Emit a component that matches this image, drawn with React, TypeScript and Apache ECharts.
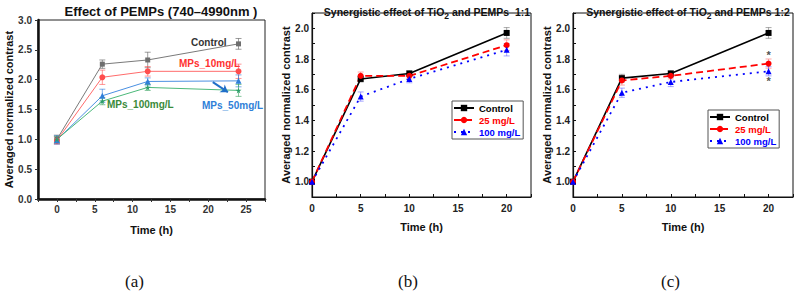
import React, { useEffect, useRef } from "react";
import * as echarts from "echarts";

// ---------- Panel (a) data ----------
const timeA = [0, 6, 12, 24];
const controlA = [1.0, 2.26, 2.33, 2.6];
const controlAErr = [0.07, 0.07, 0.13, 0.09];
const mp10A = [0.98, 2.04, 2.14, 2.14];
const mp10AErr = [0.06, 0.12, 0.08, 0.12];
const mp50A = [0.99, 1.73, 1.97, 1.98];
const mp50AErr = [0.07, 0.11, 0.06, 0.1];
const mp100A = [1.0, 1.64, 1.87, 1.82];
const mp100AErr = [0.05, 0.06, 0.05, 0.1];

// ---------- Panel (b) data ----------
const timeBC = [0, 5, 10, 20];
const controlB = [1.0, 1.67, 1.705, 1.97];
const controlBErr = [0.01, 0.02, 0.02, 0.035];
const mg25B = [1.0, 1.69, 1.69, 1.89];
const mg25BErr = [0.01, 0.025, 0.02, 0.035];
const mg100B = [1.0, 1.555, 1.67, 1.86];
const mg100BErr = [0.01, 0.03, 0.025, 0.04];

// ---------- Panel (c) data ----------
const controlC = [1.0, 1.675, 1.705, 1.97];
const controlCErr = [0.01, 0.025, 0.02, 0.035];
const mg25C = [1.0, 1.66, 1.69, 1.77];
const mg25CErr = [0.01, 0.03, 0.02, 0.03];
const mg100C = [1.0, 1.58, 1.65, 1.72];
const mg100CErr = [0.01, 0.03, 0.03, 0.03];
const sigMarksC = [[20, 1.825], [20, 1.655]];

const legendNames = ["Control", "25 mg/L", "100 mg/L"];

const FONT = "Liberation Sans, Arial, sans-serif";
const STAR =
  "path://M50,0 L61,35 L98,35 L68,57 L79,91 L50,70 L21,91 L32,57 L2,35 L39,35 Z";

function pairs(xs: number[], ys: number[]) {
  return xs.map((x, i) => [x, ys[i]]);
}

function errSeries(xs: number[], ys: number[], es: number[], color: string, idx: number) {
  return {
    type: "custom",
    xAxisIndex: idx,
    yAxisIndex: idx,
    silent: true,
    z: 1,
    data: xs.map((x, i) => [x, ys[i] - es[i], ys[i] + es[i]]),
    encode: { x: 0, y: [1, 2] },
    renderItem: (params: any, api: any) => {
      const x = api.value(0);
      const lo = api.coord([x, api.value(1)]);
      const hi = api.coord([x, api.value(2)]);
      const w = 3;
      const st = { stroke: color, lineWidth: 1 };
      return {
        type: "group",
        children: [
          { type: "line", shape: { x1: lo[0], y1: lo[1], x2: hi[0], y2: hi[1] }, style: st },
          { type: "line", shape: { x1: lo[0] - w, y1: lo[1], x2: lo[0] + w, y2: lo[1] }, style: st },
          { type: "line", shape: { x1: hi[0] - w, y1: hi[1], x2: hi[0] + w, y2: hi[1] }, style: st },
        ],
      };
    },
  };
}

function lineSeries(name: string, data: number[][], color: string, symbol: string, idx: number, extra: any = {}) {
  return {
    type: "line",
    name,
    xAxisIndex: idx,
    yAxisIndex: idx,
    data,
    symbol,
    symbolSize: 6,
    z: 3,
    itemStyle: { color },
    lineStyle: { color, width: 1.6 },
    ...extra,
  };
}

const axisText = { fontFamily: FONT, fontWeight: "bold", fontSize: 10, color: "#222" };

function xAxisBC(idx: number) {
  return {
    gridIndex: idx,
    type: "value",
    min: 0,
    max: 22.5,
    interval: 2.5,
    name: "Time (h)",
    nameLocation: "middle",
    nameGap: 24,
    nameTextStyle: { ...axisText, fontSize: 11, color: "#111" },
    axisLine: { onZero: false, lineStyle: { color: "#111", width: 1.2 } },
    axisTick: { inside: true, length: 3, lineStyle: { color: "#111" } },
    axisLabel: {
      ...axisText,
      margin: 6,
      formatter: (v: number) => (Math.abs(v % 5) < 1e-6 && v <= 20 ? String(v) : ""),
    },
    splitLine: { show: false },
  };
}

function yAxisBC(idx: number) {
  return {
    gridIndex: idx,
    type: "value",
    min: 0.9,
    max: 2.1,
    interval: 0.1,
    name: "Averaged normalized contrast",
    nameLocation: "middle",
    nameGap: 21,
    nameTextStyle: { ...axisText, fontSize: 11, color: "#111" },
    axisLine: { onZero: false, lineStyle: { color: "#111", width: 1.2 } },
    axisTick: { inside: true, length: 3, lineStyle: { color: "#111" } },
    axisLabel: {
      ...axisText,
      margin: 3,
      formatter: (v: number) => {
        const k = Math.round(v * 10);
        return k % 2 === 0 && k >= 10 && k <= 20 ? (k / 10).toFixed(1) : "";
      },
    },
    splitLine: { show: false },
  };
}

function legendBC(left: number, top: number) {
  const colors = ["#000", "#ff0000", "#0000ff"];
  return {
    left,
    top,
    orient: "vertical",
    itemWidth: 20,
    itemHeight: 8,
    itemGap: 2,
    padding: [2, 3, 2, 1],
    borderColor: "#555",
    borderWidth: 1,
    selectedMode: false,
    data: legendNames.map((n, i) => ({
      name: n,
      textStyle: { color: colors[i], fontFamily: FONT, fontWeight: "bold", fontSize: 9.5 },
    })),
  };
}

function titleBC(text: string, left: number) {
  return {
    text,
    left,
    top: 0,
    textAlign: "center",
    textStyle: {
      fontFamily: FONT,
      fontWeight: "bold",
      fontSize: 10.5,
      color: "#111",
      lineHeight: 14,
      rich: {
        sub: { fontFamily: FONT, fontWeight: "bold", fontSize: 8.5, color: "#111", padding: [7, 0, 0, 0] },
      },
    },
  };
}

export default function App() {
  const ref = useRef<HTMLDivElement>(null);
  useEffect(() => {
    if (!ref.current) return;
    const chart = echarts.init(ref.current, undefined, { renderer: "svg" });
    const option: any = {
      animation: false,
      backgroundColor: "#fff",
      title: [
        {
          text: "Effect of PEMPs (740–4990nm )",
          left: 156,
          top: 0,
          textAlign: "center",
          textStyle: { fontFamily: FONT, fontWeight: "bold", fontSize: 13, color: "#111" },
        },
        titleBC("Synergistic effect of TiO{sub|2} and PEMPs  1:1", 422),
        titleBC("Synergistic effect of TiO{sub|2} and PEMPs 1:2", 683),
      ],
      legend: [legendBC(452, 101), legendBC(708, 110)],
      grid: [
        { left: 38, top: 20, width: 227, height: 179, show: true, borderColor: "#222", borderWidth: 1 },
        { left: 312, top: 13, width: 219, height: 184, show: true, borderColor: "#111", borderWidth: 1 },
        { left: 573, top: 13, width: 220, height: 184, show: true, borderColor: "#111", borderWidth: 1 },
      ],
      xAxis: [
        {
          gridIndex: 0,
          type: "value",
          min: -2.5,
          max: 27.5,
          interval: 2.5,
          name: "Time (h)",
          nameLocation: "middle",
          nameGap: 25,
          nameTextStyle: { ...axisText, fontSize: 11, color: "#111" },
          axisLine: { onZero: false, lineStyle: { color: "#111", width: 2.5 } },
          axisTick: { length: 3, lineStyle: { color: "#333" } },
          axisLabel: {
            ...axisText,
            margin: 5,
            color: "#333",
            formatter: (v: number) => (v >= 0 && v <= 25 && Math.abs(v % 5) < 1e-6 ? String(v) : ""),
          },
          splitLine: { show: false },
        },
        xAxisBC(1),
        xAxisBC(2),
      ],
      yAxis: [
        {
          gridIndex: 0,
          type: "value",
          min: 0,
          max: 3,
          interval: 0.5,
          name: "Averaged normalized contrast",
          nameLocation: "middle",
          nameGap: 24,
          nameTextStyle: { ...axisText, fontSize: 11, color: "#111" },
          axisLine: { onZero: false, lineStyle: { color: "#111", width: 2.5 } },
          axisTick: { length: 3, lineStyle: { color: "#333" } },
          axisLabel: { ...axisText, color: "#333", margin: 6, formatter: (v: number) => v.toFixed(1) },
          splitLine: { show: false },
        },
        yAxisBC(1),
        yAxisBC(2),
      ],
      series: [
        // ---- panel (a) ----
        errSeries(timeA, controlA, controlAErr, "rgba(90,90,90,0.6)", 0),
        errSeries(timeA, mp10A, mp10AErr, "rgba(255,80,80,0.6)", 0),
        errSeries(timeA, mp50A, mp50AErr, "rgba(40,120,220,0.6)", 0),
        errSeries(timeA, mp100A, mp100AErr, "rgba(50,160,90,0.6)", 0),
        lineSeries("Control (a)", pairs(timeA, controlA), "#6e6e6e", "rect", 0, {
          symbolSize: 5,
          lineStyle: { color: "#7a7a7a", width: 1 },
        }),
        lineSeries("MPs_10mg/L", pairs(timeA, mp10A), "#ff4d4d", "circle", 0, {
          symbolSize: 6,
          lineStyle: { color: "#ff6b6b", width: 1 },
        }),
        lineSeries("MPs_50mg/L", pairs(timeA, mp50A), "#2f7fd8", "triangle", 0, {
          symbolSize: 6,
          lineStyle: { color: "#4a90e2", width: 1 },
          markLine: {
            silent: true,
            symbol: ["none", "arrow"],
            symbolSize: 7,
            label: { show: false },
            lineStyle: { color: "#1f6fc8", width: 2, type: "solid" },
            data: [[{ coord: [20.6, 1.96] }, { coord: [22.6, 1.79] }]],
          },
        }),
        lineSeries("MPs_100mg/L", pairs(timeA, mp100A), "#2e9e6a", STAR, 0, {
          symbolSize: 6,
          lineStyle: { color: "#4cb97a", width: 1 },
        }),
        // ---- panel (b) ----
        errSeries(timeBC, controlB, controlBErr, "rgba(90,90,90,0.5)", 1),
        errSeries(timeBC, mg25B, mg25BErr, "rgba(255,80,80,0.5)", 1),
        errSeries(timeBC, mg100B, mg100BErr, "rgba(80,80,255,0.5)", 1),
        lineSeries("Control", pairs(timeBC, controlB), "#000", "rect", 1, {
          symbolSize: 6,
          lineStyle: { color: "#000", width: 1.6 },
        }),
        lineSeries("25 mg/L", pairs(timeBC, mg25B), "#ff0000", "circle", 1, {
          lineStyle: { color: "#ff0000", width: 1.8, type: [7, 4] },
        }),
        lineSeries("100 mg/L", pairs(timeBC, mg100B), "#0000ff", "triangle", 1, {
          lineStyle: { color: "#0000ff", width: 1.8, type: [2, 5] },
        }),
        // ---- panel (c) ----
        errSeries(timeBC, controlC, controlCErr, "rgba(90,90,90,0.5)", 2),
        errSeries(timeBC, mg25C, mg25CErr, "rgba(255,80,80,0.5)", 2),
        errSeries(timeBC, mg100C, mg100CErr, "rgba(80,80,255,0.5)", 2),
        lineSeries("Control", pairs(timeBC, controlC), "#000", "rect", 2, {
          symbolSize: 6,
          lineStyle: { color: "#000", width: 1.6 },
        }),
        lineSeries("25 mg/L", pairs(timeBC, mg25C), "#ff0000", "circle", 2, {
          lineStyle: { color: "#ff0000", width: 1.8, type: [7, 4] },
        }),
        lineSeries("100 mg/L", pairs(timeBC, mg100C), "#0000ff", "triangle", 2, {
          lineStyle: { color: "#0000ff", width: 1.8, type: [2, 5] },
        }),
        {
          type: "scatter",
          name: "sig",
          xAxisIndex: 2,
          yAxisIndex: 2,
          data: sigMarksC,
          symbolSize: 0,
          silent: true,
          label: {
            show: true,
            position: "inside",
            formatter: "*",
            fontFamily: FONT,
            fontWeight: "bold",
            fontSize: 11,
            color: "#222",
          },
        },
      ],
      graphic: [
        { type: "text", left: 191, top: 37, style: { text: "Control", font: `bold 10px ${FONT}`, fill: "#333" } },
        { type: "text", left: 179, top: 58, style: { text: "MPs_10mg/L", font: `bold 10px ${FONT}`, fill: "#ff3030" } },
        { type: "text", left: 107, top: 99, style: { text: "MPs_100mg/L", font: `bold 10px ${FONT}`, fill: "#3a8a3a" } },
        { type: "text", left: 202, top: 100, style: { text: "MPs_50mg/L", font: `bold 10px ${FONT}`, fill: "#2f7fd8" } },
        { type: "text", left: 125, top: 273, style: { text: "(a)", font: `17px Liberation Serif, Times New Roman, serif`, fill: "#111" } },
        { type: "text", left: 398, top: 273, style: { text: "(b)", font: `17px Liberation Serif, Times New Roman, serif`, fill: "#111" } },
        { type: "text", left: 661, top: 273, style: { text: "(c)", font: `17px Liberation Serif, Times New Roman, serif`, fill: "#111" } },
      ],
    };
    chart.setOption(option);
    return () => chart.dispose();
  }, []);
  return (
    <div
      ref={ref}
      style={{ position: "fixed", left: 0, top: 0, width: 796, height: 295, background: "#fff" }}
    />
  );
}
